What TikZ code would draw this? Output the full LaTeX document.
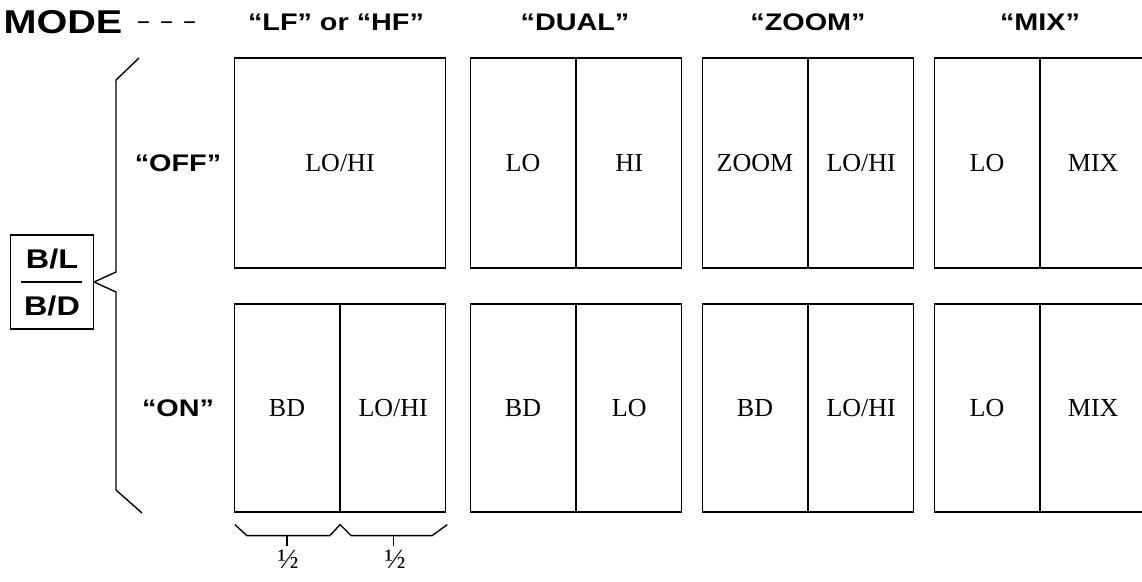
\documentclass[tikz,border=0pt]{standalone}
\usepackage{fontspec}
\setmainfont{Liberation Serif}
\setsansfont[FakeStretch=1.2]{Liberation Sans}
\usetikzlibrary{positioning,calc}

\begin{document}
\begin{tikzpicture}[x=1pt,y=-1pt,
  full/.style={draw,line width=1.2pt,minimum width=211pt,minimum height=210pt,inner sep=0pt,font=\fontsize{26}{26}\selectfont},
  half/.style={draw,line width=1.2pt,minimum width=105pt,minimum height=210pt,inner sep=0pt,font=\fontsize{26}{26}\selectfont},
  onrow/.style={minimum height=208pt},
  head/.style={font=\sffamily\bfseries\fontsize{24}{24}\selectfont},
  big/.style={font=\sffamily\bfseries\fontsize{27}{27}\selectfont},
  brace/.style={line width=1.4pt,line join=miter}]
\useasboundingbox (0,0) rectangle (1142,581);

% headers
\node[big,font=\sffamily\bfseries\fontsize{33}{33}\selectfont,anchor=west] (mode) at (0,22) {MODE};
\node[head,font=\sffamily\bfseries\fontsize{18}{18}\selectfont,anchor=west] (dash) at (134,25) {–\hspace{11pt}–\hspace{11pt}–};
\node[head] (hlf) at (336,22) {``LF'' or ``HF''};
\node[head] (hdual) at (575,22) {``DUAL''};
\node[head] (hzoom) at (808,22) {``ZOOM''};
\node[head] (hmix) at (1040,22) {``MIX''};

% row "OFF"
\node[head] (off) at (178,163) {``OFF''};
\node[full] (lfoff) at (340,163) {LO/HI};
\node[half] (dualoffa) at (523,163) {LO};
\node[half,right=0pt of dualoffa] (dualoffb) {HI};
\node[half] (zoomoffa) at (755,163) {ZOOM};
\node[half,right=0pt of zoomoffa] (zoomoffb) {LO/HI};
\node[half] (mixoffa) at (987,163) {LO};
\node[half,right=0pt of mixoffa] (mixoffb) {MIX};

% row "ON"
\node[head] (on) at (178,408) {``ON''};
\node[half,onrow] (lfona) at (287,408) {BD};
\node[half,onrow,right=0pt of lfona] (lfonb) {LO/HI};
\node[half,onrow] (dualona) at (523,408) {BD};
\node[half,onrow,right=0pt of dualona] (dualonb) {LO};
\node[half,onrow] (zoomona) at (755,408) {BD};
\node[half,onrow,right=0pt of zoomona] (zoomonb) {LO/HI};
\node[half,onrow] (mixona) at (987,408) {LO};
\node[half,onrow,right=0pt of mixona] (mixonb) {MIX};

% B/L over B/D switch
\node[draw,line width=1.2pt,minimum width=83pt,minimum height=94pt,inner sep=0pt] (sw) at (52,282) {};
\node[big] (bl) at (52,259) {B/L};
\node[big] (bd) at (52,306) {B/D};
\draw[line width=1.6pt] (21,282) -- (82,282);

% brace joining the rows
\draw[brace] (139,58) -- (116,80) -- (116,272) -- (sw.east) -- (116,292) -- (116,490) -- (142,513);

% halves under the first box
\draw[brace] ($(lfona.south west)+(1,12)$) -- ++(12,11) -- ++(83,0)
  -- ($(lfona.south east)+(0,12)$) -- ++(11,11) -- ++(81,0) -- ($(lfonb.south east)+(1,12)$);
\draw[brace] ($(lfona.south)+(0,23)$) -- ++(0,10);
\draw[brace] ($(lfonb.south)+(0,23)$) -- ++(0,10);
\node[font=\fontsize{28}{28}\selectfont] (ha) at ($(lfona.south)+(1,47)$) {½};
\node[font=\fontsize{28}{28}\selectfont] (hb) at ($(lfonb.south)+(2,47)$) {½};
\end{tikzpicture}
\end{document}
